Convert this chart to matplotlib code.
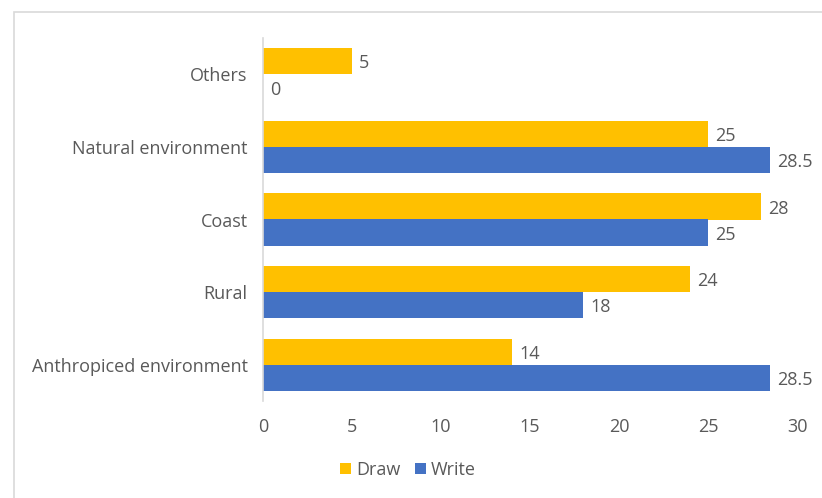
import numpy as np
import matplotlib
matplotlib.use('Agg')
import matplotlib.pyplot as plt
from matplotlib.patches import Rectangle

# ─── DATA ──────────────────────────────────────────────────────────────────────
categories = ["Anthropiced environment", "Rural", "Coast",
              "Natural environment", "Others"]
draw_vals  = [14, 24, 28, 25, 5]
write_vals = [28.5, 18, 25, 28.5, 0]
x_ticks    = [0, 5, 10, 15, 20, 25, 30]

DRAW_COL  = "#FFC000"
WRITE_COL = "#4472C4"
TEXT_COL  = "#595959"
FS = 13

plt.rcParams['font.family'] = ['Open Sans', 'DejaVu Sans']

W, H = 822, 498
fig = plt.figure(figsize=(W / 100, H / 100), dpi=100)
ax = fig.add_axes([263 / W, 1 - 401 / H, (797 - 263) / W, (401 - 38) / H])

# chart frame (only top and left edges fall inside the image)
fig.patches.append(Rectangle((14 / W, -0.1), 1.2, 1.1 - 12 / H,
                             transform=fig.transFigure, fill=False,
                             edgecolor="#D9D9D9", linewidth=1.2))

y = np.arange(len(categories))
h = 0.36
b1 = ax.barh(y + h / 2, draw_vals, height=h, color=DRAW_COL, label="Draw")
b2 = ax.barh(y - h / 2, write_vals, height=h, color=WRITE_COL, label="Write")

for bars, vals in ((b1, draw_vals), (b2, write_vals)):
    for bar, v in zip(bars, vals):
        ax.text(v + 0.4, bar.get_y() + bar.get_height() / 2 - 0.03, f"{v:g}",
                va='center', ha='left', fontsize=FS, color=TEXT_COL)

ax.set_xlim(0, 30)
ax.set_ylim(-0.5, len(categories) - 0.5)
ax.set_xticks(x_ticks)
ax.set_xticklabels([str(t) for t in x_ticks])
ax.set_yticks(y)
ax.set_yticklabels(categories)
ax.tick_params(axis='both', length=0, labelsize=FS, colors=TEXT_COL)
ax.tick_params(axis='x', pad=12)
ax.tick_params(axis='y', pad=11)

for s in ("top", "right", "bottom"):
    ax.spines[s].set_visible(False)
ax.spines["left"].set_color("#D9D9D9")
ax.spines["left"].set_linewidth(1.2)

fig.legend(handles=[b1, b2], labels=["Draw", "Write"], loc='center',
           bbox_to_anchor=(408 / W, 1 - 470 / H), ncol=2, frameon=False,
           fontsize=FS, handlelength=0.6, handleheight=0.6, handletextpad=0.3,
           columnspacing=0.8, labelcolor=TEXT_COL)

fig.savefig("out.png", dpi=100)
